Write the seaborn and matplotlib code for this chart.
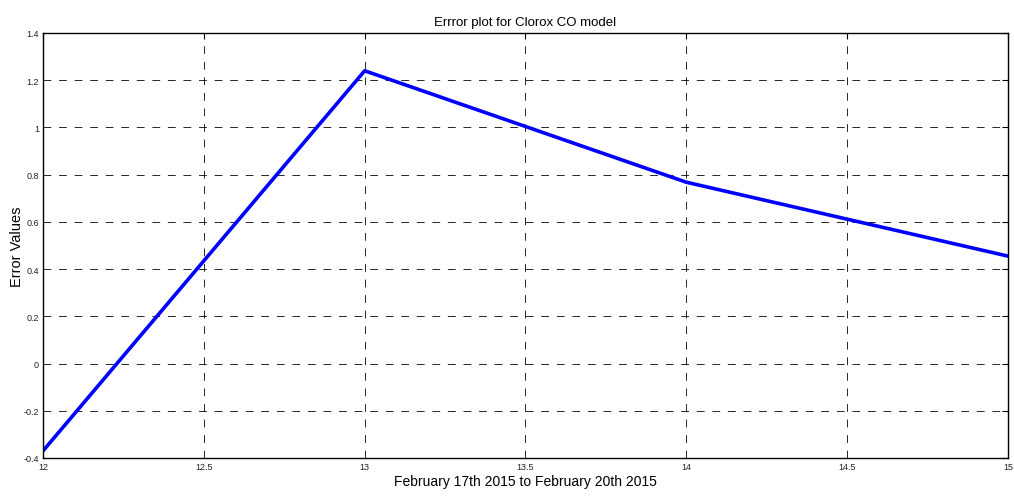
import matplotlib
matplotlib.use("Agg")
import matplotlib.pyplot as plt
import seaborn as sns
import pandas as pd

days = [12, 13, 14, 15]
errors = [-0.37, 1.24, 0.768, 0.455]
xticks = [12, 12.5, 13, 13.5, 14, 14.5, 15]
yticks = [-0.4, -0.2, 0, 0.2, 0.4, 0.6, 0.8, 1, 1.2, 1.4]
ytick_labels = ["-0.4", "-0.2", "0", "0.2", "0.4", "0.6", "0.8", "1", "1.2", "1.4"]

sns.set_style("white")
plt.rcParams['font.family'] = ['Liberation Sans', 'DejaVu Sans']
plt.rcParams['text.color'] = 'black'
plt.rcParams['axes.labelcolor'] = 'black'

fig = plt.figure(figsize=(10.14, 5.02), dpi=100)
ax = fig.add_axes([43/1014, 43/502, (1008-43)/1014, (459-34)/502])

df = pd.DataFrame({"day": days, "err": errors})
sns.lineplot(data=df, x="day", y="err", ax=ax, color="#0000ff", linewidth=2.6)

ax.set_xlim(12, 15)
ax.set_ylim(-0.4, 1.4)
ax.set_xticks(xticks)
ax.set_xticklabels([f"{t:g}" for t in xticks], fontsize=6.5)
ax.set_yticks(yticks)
ax.set_yticklabels(ytick_labels, fontsize=6.5)
ax.grid(True, color="black", linestyle=(0, (8, 8)), linewidth=0.7, alpha=0.85)
ax.tick_params(direction="in", length=4, width=0.8, top=True, right=True, pad=3,
               colors="black", labelcolor="#222222")
for s in ax.spines.values():
    s.set_color("black")
    s.set_linewidth(1.0)

ax.set_title("Errror plot for Clorox CO model", fontsize=9.5, pad=6, color="black")
ax.set_xlabel("February 17th 2015 to February 20th 2015", fontsize=10, labelpad=2, color="black")
ax.set_ylabel("Error Values", fontsize=10.5, color="black")
ax.yaxis.set_label_coords(-0.02, 0.5)

fig.savefig("out.png", dpi=100)
